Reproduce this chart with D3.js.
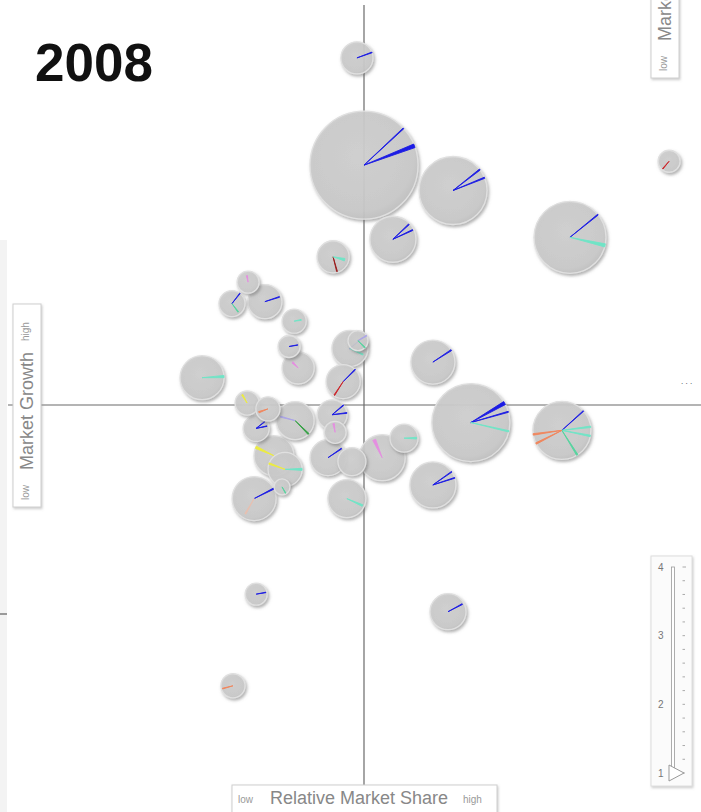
<!DOCTYPE html>
<html><head><meta charset="utf-8">
<script src="https://cdn.jsdelivr.net/npm/d3@7"></script>
<style>body{margin:0;background:#fff;overflow:hidden}svg{display:block}</style>
</head><body><div id="chart"></div>
<script>
// ---------- DATA ----------
const year = "2008";
const products = ["P01","P02","P03","P04","P05","P06","P07","P08","P09","P10","P11","P12","P13","P14","P15","P16","P17","P18","P19","P20",
                  "P21","P22","P23","P24","P25","P26","P27","P28","P29","P30","P31","P32","P33","P34","P35","P36","P37","P38","P39"];
// relative market share (x)
const relShare = [0.979,1.000,1.265,1.613,1.908,1.086,0.908,0.655,0.607,0.705,0.792,0.777,0.804,0.958,0.982,0.938,0.518,1.205,1.318,1.589,
                  1.205,1.250,0.679,0.610,0.949,1.054,1.119,0.652,0.714,0.679,0.795,0.905,0.914,0.732,0.765,0.756,0.673,0.893,0.964];
// market growth % (y)
const growth = [17.8,12.3,11.0,8.6,12.5,8.5,7.6,6.3,5.2,5.3,4.3,3.0,1.9,2.9,3.3,1.2,1.4,2.2,-0.9,-1.3,
                -4.1,-10.6,-9.7,-14.4,-4.8,-2.7,-1.7,0.1,-0.2,-1.2,-0.8,-0.5,-1.4,-2.6,-3.3,-4.2,-4.8,-2.7,-2.9];
// market size (bubble area)
const marketSize = [8.5,96.4,38.2,42.8,4.0,17.5,8.5,4.0,5.6,9.6,4.8,4.0,8.5,10.7,3.3,9.6,16.0,16.0,50.3,27.8,
                    17.5,10.7,4.0,4.8,11.9,17.5,6.5,4.8,4.8,5.6,11.9,7.4,4.0,13.2,9.6,2.1,16.0,10.7,6.5];
// segment shares shown as spokes: [angle deg, length fraction, segment index, wedge deg]
const segments = ["Segment A","Segment B","Segment C","Segment D","Segment E","Segment F","Segment G","Segment H","Segment I","Segment J","Segment K"];
const spokes = [
  [[-20,1,0,2.5]],
  [[-21,1,0,4],[-43,1,0,1]],
  [[-38,1,0,2],[-22,1,0,2]],
  [[-39,1,0,1.5],[13,1,1,5]],
  [[130,0.9,2,4]],
  [[-43,0.95,0,2.5],[-25,0.95,0,2.5]],
  [[75,0.95,9,3],[14,0.75,1,12]],
  [[-100,0.6,6,10]],
  [[-52,1,0,3],[53,0.8,5,5]],
  [[-18,0.9,0,3]],
  [[-10,0.6,1,8]],
  [[-10,0.8,0,3]],
  [[-135,0.5,6,12]],
  [[-40,0.9,0,3],[25,0.8,1,5]],
  [[-30,1,8,6],[45,1,5,6]],
  [[-45,1,0,3],[123,0.95,2,3]],
  [[-3,1,1,6]],
  [[-33,1,0,3]],
  [[-30,1,0,5],[-16,1,0,1.5],[13,1,1,2]],
  [[-42,1,0,1.5],[-7,1,1,3],[11,1,1,3],[58,1,5,3],[172,1,3,3],[153,1,3,3]],
  [[-35,1,0,2],[-18,1,0,2]],
  [[-28,0.9,0,3]],
  [[-10,0.9,0,3]],
  [[165,0.9,3,4]],
  [[24,0.9,1,6]],
  [[-114,0.85,6,9]],
  [[0,0.9,1,8]],
  [[-120,0.8,7,8]],
  [[160,0.8,3,8]],
  [[-38,0.85,0,3],[-12,0.85,0,3]],
  [[45,1,4,4],[195,0.8,8,4]],
  [[-40,1,0,3],[-7,1,0,3]],
  [[-100,0.8,6,10]],
  [[-155,1,7,7]],
  [[200,1,7,5],[0,1,1,7]],
  [[60,0.9,5,6]],
  [[-27,1,0,3],[120,0.8,10,4]],
  [[-34,0.9,0,3]],
  []
];
const sliderValues = [1,2,3,4];
const axisLabels = {x:["low","Relative Market Share","high"], y:["low","Market Growth","high"], size:["low","Market Size","high"]};

// ---------- STYLE ----------
const W = 701, H = 812;
const segColors = ["#1c1ce4","#70e4c6","#cc2228","#f0865c","#33a043","#55d49e","#e48ee0","#ecec40","#aaa4e6","#9a1a1a","#e8c0b0"];
const font = "'Liberation Sans', Arial, sans-serif";

const svg = d3.select("#chart").append("svg").attr("width", W).attr("height", H);
const defs = svg.append("defs");
const f = defs.append("filter").attr("id","sh").attr("x","-30%").attr("y","-30%").attr("width","160%").attr("height","160%");
f.append("feDropShadow").attr("dx",1.5).attr("dy",2).attr("stdDeviation",1.6).attr("flood-color","#666").attr("flood-opacity",0.55);
const fb = defs.append("filter").attr("id","shb").attr("x","-20%").attr("y","-20%").attr("width","140%").attr("height","140%");
fb.append("feDropShadow").attr("dx",1).attr("dy",1.5).attr("stdDeviation",1.2).attr("flood-color","#999").attr("flood-opacity",0.5);
const g = defs.append("radialGradient").attr("id","bg").attr("cx","45%").attr("cy","42%").attr("r","60%");
g.append("stop").attr("offset","0%").attr("stop-color","#d0d0d0");
g.append("stop").attr("offset","85%").attr("stop-color","#cacaca");
g.append("stop").attr("offset","100%").attr("stop-color","#c0c0c0");

// scales
const x = d3.scaleLinear().domain([0,2]).range([28,700]);
const y = d3.scaleLinear().domain([-20,20]).range([795,15]);
const r = d3.scaleSqrt().domain([0,100]).range([0,55]);

// left edge strip
svg.append("rect").attr("x",0).attr("y",240).attr("width",7).attr("height",H-240).attr("fill","#f3f3f3");
svg.append("rect").attr("x",0).attr("y",613).attr("width",7).attr("height",2).attr("fill","#9a9a9a");

// quadrant axes
svg.append("line").attr("x1",x(1)).attr("x2",x(1)).attr("y1",5).attr("y2",786).attr("stroke","#6a6a6a").attr("stroke-width",1.2);
svg.append("line").attr("x1",8).attr("x2",W).attr("y1",y(0)).attr("y2",y(0)).attr("stroke","#6a6a6a").attr("stroke-width",1.2);
svg.append("text").attr("x",681).attr("y",384).text(". .  .").attr("font-family",font).attr("font-size",8).attr("fill","#333");

// bubbles
const data = products.map((p,i)=>({p, xs:relShare[i], gr:growth[i], s:marketSize[i], sp:spokes[i]}));
data.sort((a,b)=>b.s-a.s);
const bub = svg.append("g").selectAll("g").data(data).join("g")
  .attr("transform", d=>`translate(${x(d.xs)},${y(d.gr)})`);
bub.append("circle").attr("r", d=>r(d.s)).attr("fill","url(#bg)").attr("fill-opacity",0.9)
  .attr("stroke","#e0e0e0").attr("stroke-width",1.3).attr("filter","url(#sh)");
bub.each(function(d){
  const R = r(d.s);
  d3.select(this).selectAll("path").data(d.sp).join("path")
    .attr("d", s=>{
      const a = s[0]*Math.PI/180, hw = s[3]/2*Math.PI/180, L = R*s[1];
      return `M0,0L${L*Math.cos(a-hw)},${L*Math.sin(a-hw)}L${L*Math.cos(a+hw)},${L*Math.sin(a+hw)}Z`;
    })
    .attr("fill", s=>segColors[s[2]]).attr("stroke", s=>segColors[s[2]]).attr("stroke-width",0.9)
    .attr("stroke-linejoin","round");
});

// title
svg.append("text").attr("x",35).attr("y",81).text(year)
  .attr("font-family",font).attr("font-weight","bold").attr("font-size",53).attr("fill","#111");

// bottom axis label box
const bx = svg.append("g");
bx.append("rect").attr("x",232).attr("y",785).attr("width",265).attr("height",40).attr("fill","#fff").attr("stroke","#cfcfcf").attr("filter","url(#shb)");
bx.append("text").attr("x",238).attr("y",803).text(axisLabels.x[0]).attr("font-family",font).attr("font-size",10).attr("fill","#999");
bx.append("text").attr("x",270).attr("y",804).text(axisLabels.x[1]).attr("font-family",font).attr("font-size",18).attr("fill","#888");
bx.append("text").attr("x",463).attr("y",803).text(axisLabels.x[2]).attr("font-family",font).attr("font-size",10).attr("fill","#999");

// vertical label boxes
function vbox(x0, yBottom, labels){
  const gg = svg.append("g");
  gg.append("rect").attr("x",x0).attr("y",yBottom-203).attr("width",28).attr("height",203).attr("fill","#fff").attr("stroke","#cfcfcf").attr("filter","url(#shb)");
  gg.append("text").attr("transform",`translate(${x0+16},${yBottom-7}) rotate(-90)`).text(labels[0]).attr("font-family",font).attr("font-size",10).attr("fill","#999");
  gg.append("text").attr("transform",`translate(${x0+20},${yBottom-37}) rotate(-90)`).text(labels[1]).attr("font-family",font).attr("font-size",18).attr("fill","#888");
  gg.append("text").attr("transform",`translate(${x0+16},${yBottom-166}) rotate(-90)`).text(labels[2]).attr("font-family",font).attr("font-size",10).attr("fill","#999");
}
vbox(13, 507, axisLabels.y);
vbox(651, 78, axisLabels.size);

// year slider
const sy = d3.scaleLinear().domain([1,4]).range([773,567]);
const sl = svg.append("g");
sl.append("rect").attr("x",651).attr("y",556).attr("width",41).attr("height",230).attr("fill","#fbfbfb").attr("stroke","#dedede").attr("filter","url(#shb)");
sl.append("rect").attr("x",671.5).attr("y",sy(4)).attr("width",3).attr("height",sy(1)-sy(4)).attr("fill","#fff").attr("stroke","#999").attr("stroke-width",0.8);
sl.selectAll("line.t").data(d3.range(1,4.01,0.2)).join("line")
  .attr("x1",682.5).attr("x2",d=>Math.abs(d-4)<0.01?686:685).attr("y1",d=>sy(d)).attr("y2",d=>sy(d))
  .attr("stroke","#aaa").attr("stroke-width",1);
sl.selectAll("text").data(sliderValues).join("text").attr("x",658).attr("y",d=>sy(d)+3.5).text(d=>d)
  .attr("font-family",font).attr("font-size",10).attr("fill","#777");
sl.append("path").attr("d",`M${669},${sy(1)-8}L${684},${sy(1)}L${669},${sy(1)+8}Z`).attr("fill","#fff").attr("stroke","#999").attr("stroke-width",1);
</script></body></html>
